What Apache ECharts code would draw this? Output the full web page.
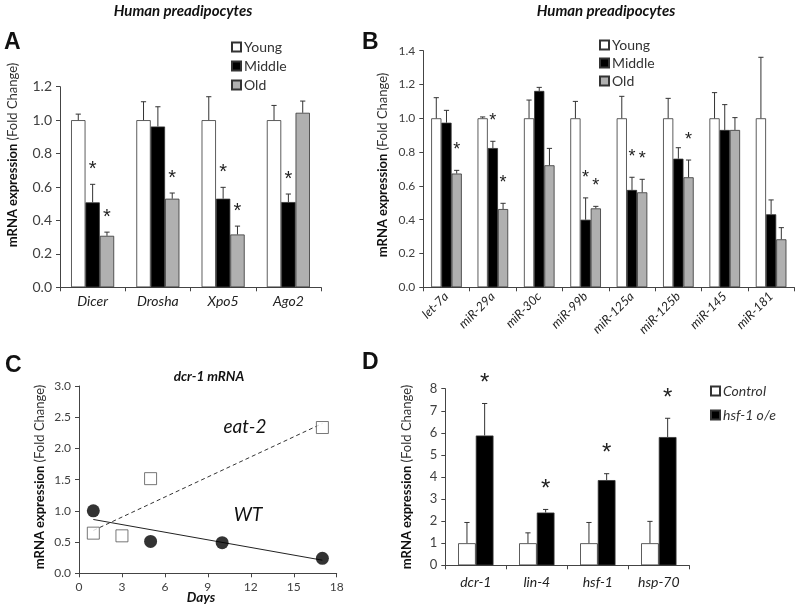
<!DOCTYPE html>
<html><head><meta charset="utf-8">
<script src="https://cdn.jsdelivr.net/npm/echarts@6/dist/echarts.min.js"></script>
<style>html,body{margin:0;padding:0;background:#fff}#c{width:800px;height:609px}</style>
</head><body><div id="c"></div>
<script>
// ---------- Panel A data ----------
const catA = ['Dicer', 'Drosha', 'Xpo5', 'Ago2'];
const youngA = [1.0, 1.0, 1.0, 1.0];
const youngAErr = [1.036, 1.11, 1.14, 1.088];
const middleA = [0.508, 0.962, 0.53, 0.51];
const middleAErr = [0.616, 1.08, 0.598, 0.558];
const oldA = [0.308, 0.53, 0.316, 1.044];
const oldAErr = [0.33, 0.564, 0.366, 1.114];
const starsYoungA = ['', '', '', ''];
const starsMiddleA = ['*', '', '*', '*'];
const starsOldA = ['*', '*', '*', ''];
const ticksA = [0, 0.2, 0.4, 0.6, 0.8, 1.0, 1.2];

// ---------- Panel B data ----------
const catB = ['let-7a', 'miR-29a', 'miR-30c', 'miR-99b', 'miR-125a', 'miR-125b', 'miR-145', 'miR-181'];
const youngB = [1.0, 1.0, 1.0, 1.0, 1.0, 1.0, 1.0, 1.0];
const youngBErr = [1.122, 1.008, 1.108, 1.10, 1.13, 1.118, 1.152, 1.361];
const middleB = [0.974, 0.824, 1.162, 0.40, 0.576, 0.761, 0.931, 0.432];
const middleBErr = [1.047, 0.864, 1.183, 0.529, 0.651, 0.826, 1.081, 0.517];
const oldB = [0.673, 0.463, 0.722, 0.467, 0.562, 0.651, 0.931, 0.284];
const oldBErr = [0.692, 0.497, 0.822, 0.479, 0.639, 0.753, 1.004, 0.353];
const starsYoungB = ['', '', '', '', '', '', '', ''];
const starsMiddleB = ['', '*', '', '*', '*', '', '', ''];
const starsOldB = ['*', '*', '', '*', '*', '*', '', ''];
const ticksB = [0, 0.2, 0.4, 0.6, 0.8, 1.0, 1.2, 1.4];

// ---------- Panel C data ----------
const daysWT = [1, 5, 10, 17];
const valWT = [1.0, 0.51, 0.49, 0.24];
const daysEat = [1, 3, 5, 17];
const valEat = [0.643, 0.60, 1.516, 2.335];
const trendWT = [[1, 0.862], [17, 0.21]];
const trendEat = [[1, 0.686], [17, 2.40]];
const ticksCx = [0, 3, 6, 9, 12, 15, 18];
const ticksCy = [0, 0.5, 1.0, 1.5, 2.0, 2.5, 3.0];

// ---------- Panel D data ----------
const catD = ['dcr-1', 'lin-4', 'hsf-1', 'hsp-70'];
const controlD = [1.0, 1.0, 1.0, 1.0];
const controlDErr = [1.94, 1.47, 1.94, 1.99];
const hsfD = [5.88, 2.39, 3.86, 5.81];
const hsfDErr = [7.33, 2.53, 4.15, 6.66];
const starsControlD = ['', '', '', ''];
const starsHsfD = ['*', '*', '*', '*'];
const ticksD = [0, 1, 2, 3, 4, 5, 6, 7, 8];

// ---------- helpers ----------
const FONT = 'Lato';
const AX = '#404040';
const YOUNG = '#ffffff', MIDDLE = '#000000', OLD = '#b0b0b0';

function bar(name, data, color, gi, w) {
  return {
    type: 'bar', name: name, data: data, xAxisIndex: gi, yAxisIndex: gi,
    barWidth: w, barGap: '0%',
    itemStyle: { color: color, borderColor: '#333', borderWidth: 0.8 },
    z: 2
  };
}
function errBars(vals, errs, stars, gi, offFactor, frac, gap, starSize) {
  const data = vals.map((v, i) => [i, v, errs[i]]);
  return {
    type: 'custom', xAxisIndex: gi, yAxisIndex: gi, z: 5, silent: true,
    data: data,
    renderItem: function (params, api) {
      const i = api.value(0);
      const b = api.coord([i, api.value(1)]);
      const t = api.coord([i, api.value(2)]);
      const band = api.size([1, 0])[0];
      const x = b[0] + offFactor * band * frac;
      const cap = 2.6;
      const ch = [
        { type: 'line', shape: { x1: x, y1: b[1], x2: x, y2: t[1] }, style: { stroke: '#333', lineWidth: 1 } },
        { type: 'line', shape: { x1: x - cap, y1: t[1], x2: x + cap, y2: t[1] }, style: { stroke: '#333', lineWidth: 1 } }
      ];
      const s = stars[params.dataIndex];
      if (s) {
        ch.push({ type: 'text', style: { text: s, x: x, y: t[1] - gap, align: 'center', verticalAlign: 'middle',
          font: starSize + 'px "Liberation Sans"', fill: '#222' } });
      }
      return { type: 'group', children: ch };
    }
  };
}
function yTitle(x, y, size) {
  return {
    type: 'text', x: x, y: y, rotation: Math.PI / 2,
    style: {
      text: '{b|mRNA expression} {n|(Fold Change)}', align: 'center', verticalAlign: 'middle',
      rich: {
        b: { fontFamily: FONT, fontWeight: 'bold', fontSize: size, fill: '#111' },
        n: { fontFamily: FONT, fontSize: size, fill: '#333' }
      }
    }
  };
}
function txt(x, y, text, font, align) {
  return { type: 'text', x: x, y: y, style: { text: text, font: font, fill: '#111', align: align || 'center', verticalAlign: 'middle' } };
}

const fmt1 = v => v.toFixed(1);
function valAxis(gi, ticks, formatter, size) {
  return {
    type: 'value', gridIndex: gi, min: ticks[0], max: ticks[ticks.length - 1],
    interval: ticks[1] - ticks[0],
    axisLine: { show: true, lineStyle: { color: '#444' } },
    axisTick: { show: true, length: 4, lineStyle: { color: '#444' } },
    splitLine: { show: false },
    axisLabel: { formatter: formatter, color: AX, fontFamily: FONT, fontSize: size, margin: 8 }
  };
}
function catAxis(gi, cats, size, rotate, margin) {
  return {
    type: 'category', gridIndex: gi, data: cats,
    axisLine: { show: true, lineStyle: { color: '#444' } },
    axisTick: { show: true, length: 4, lineStyle: { color: '#444' } },
    axisLabel: { color: '#222', fontFamily: FONT, fontStyle: 'italic', fontSize: size, rotate: rotate, margin: margin, interval: 0 }
  };
}

const option = {
  backgroundColor: '#fff',
  animation: false,
  grid: [
    { left: 60, top: 86.7, width: 261, height: 200.6 },
    { left: 423.3, top: 50.7, width: 371, height: 236.6 },
    { left: 79, top: 386, width: 257.7, height: 187.3 },
    { left: 445.3, top: 388.7, width: 244, height: 176.6 }
  ],
  xAxis: [
    catAxis(0, catA, 14, 0, 7),
    catAxis(1, catB, 12.5, 45, 7),
    {
      type: 'value', gridIndex: 2, min: 0, max: 18, interval: 3,
      axisLine: { show: true, lineStyle: { color: '#444' } },
      axisTick: { show: true, length: 4, lineStyle: { color: '#444' } },
      splitLine: { show: false },
      axisLabel: { color: AX, fontFamily: FONT, fontSize: 12, margin: 8 }
    },
    catAxis(3, catD, 14, 0, 10)
  ],
  yAxis: [
    valAxis(0, ticksA, fmt1, 14),
    valAxis(1, ticksB, fmt1, 12),
    valAxis(2, ticksCy, fmt1, 12),
    valAxis(3, ticksD, v => String(v), 13)
  ],
  legend: [
    { left: 226, top: 35, orient: 'vertical', icon: 'rect', itemWidth: 9, itemHeight: 9, itemGap: 5,
      data: ['Young', 'Middle', 'Old'], textStyle: { fontFamily: FONT, fontSize: 14, color: '#333', padding: [0, 0, 0, -2] } },
    { left: 594, top: 33, orient: 'vertical', icon: 'rect', itemWidth: 9, itemHeight: 9, itemGap: 4,
      data: ['Young', 'Middle', 'Old'], textStyle: { fontFamily: FONT, fontSize: 14, color: '#333', padding: [0, 0, 0, -2] } },
    { left: 705, top: 379, orient: 'vertical', icon: 'rect', itemWidth: 9, itemHeight: 9, itemGap: 10,
      data: ['Control', 'hsf-1 o/e'], textStyle: { fontFamily: FONT, fontStyle: 'italic', fontSize: 14, color: '#333', padding: [0, 0, 0, -2] } }
  ],
  series: [
    bar('Young', youngA, YOUNG, 0, '22%'),
    bar('Middle', middleA, MIDDLE, 0, '22%'),
    bar('Old', oldA, OLD, 0, '22%'),
    errBars(youngA, youngAErr, starsYoungA, 0, -1, 0.22, 15, 20),
    errBars(middleA, middleAErr, starsMiddleA, 0, 0, 0.22, 15, 20),
    errBars(oldA, oldAErr, starsOldA, 0, 1, 0.22, 15, 20),

    bar('Young', youngB, YOUNG, 1, '22%'),
    bar('Middle', middleB, MIDDLE, 1, '22%'),
    bar('Old', oldB, OLD, 1, '22%'),
    errBars(youngB, youngBErr, starsYoungB, 1, -1, 0.22, 20, 18),
    errBars(middleB, middleBErr, starsMiddleB, 1, 0, 0.22, 20, 18),
    errBars(oldB, oldBErr, starsOldB, 1, 1, 0.22, 20, 18),

    { type: 'line', xAxisIndex: 2, yAxisIndex: 2, data: trendEat, showSymbol: false, symbol: 'none',
      lineStyle: { color: '#333', width: 1, type: [4, 3] }, z: 2 },
    { type: 'line', xAxisIndex: 2, yAxisIndex: 2, data: trendWT, showSymbol: false, symbol: 'none',
      lineStyle: { color: '#222', width: 1 }, z: 2 },
    { type: 'scatter', name: 'eat-2', xAxisIndex: 2, yAxisIndex: 2, data: daysEat.map((d, i) => [d, valEat[i]]),
      symbol: 'rect', symbolSize: 12, itemStyle: { color: '#fff', borderColor: '#555', borderWidth: 1 }, z: 3 },
    { type: 'scatter', name: 'WT', xAxisIndex: 2, yAxisIndex: 2, data: daysWT.map((d, i) => [d, valWT[i]]),
      symbol: 'circle', symbolSize: 13, itemStyle: { color: '#000' }, z: 3 },

    bar('Control', controlD, '#ffffff', 3, '29%'),
    bar('hsf-1 o/e', hsfD, '#000000', 3, '29%'),
    errBars(controlD, controlDErr, starsControlD, 3, -0.5, 0.29, 20, 24),
    errBars(hsfD, hsfDErr, starsHsfD, 3, 0.5, 0.29, 20, 24)
  ],
  graphic: [
    txt(183, 11, 'Human preadipocytes', 'italic bold 15px Lato'),
    txt(606, 11, 'Human preadipocytes', 'italic bold 15px Lato'),
    txt(4, 43, 'A', 'bold 23px "Liberation Sans"', 'left'),
    txt(362, 43, 'B', 'bold 23px "Liberation Sans"', 'left'),
    txt(5, 366, 'C', 'bold 23px "Liberation Sans"', 'left'),
    txt(362, 363, 'D', 'bold 23px "Liberation Sans"', 'left'),
    txt(209, 377, 'dcr-1 mRNA', 'italic bold 13.5px Lato'),
    txt(201, 598, 'Days', 'italic bold 13.5px Lato'),
    txt(245, 427, 'eat-2', 'italic 19px Lato'),
    txt(248, 515, 'WT', 'italic 19px Lato'),
    yTitle(13, 155, 13),
    yTitle(383, 165, 13),
    yTitle(40, 477, 13),
    yTitle(407, 477, 13)
  ]
};
const chart = echarts.init(document.getElementById('c'), null, { renderer: 'canvas' });
chart.setOption(option);
</script></body></html>
